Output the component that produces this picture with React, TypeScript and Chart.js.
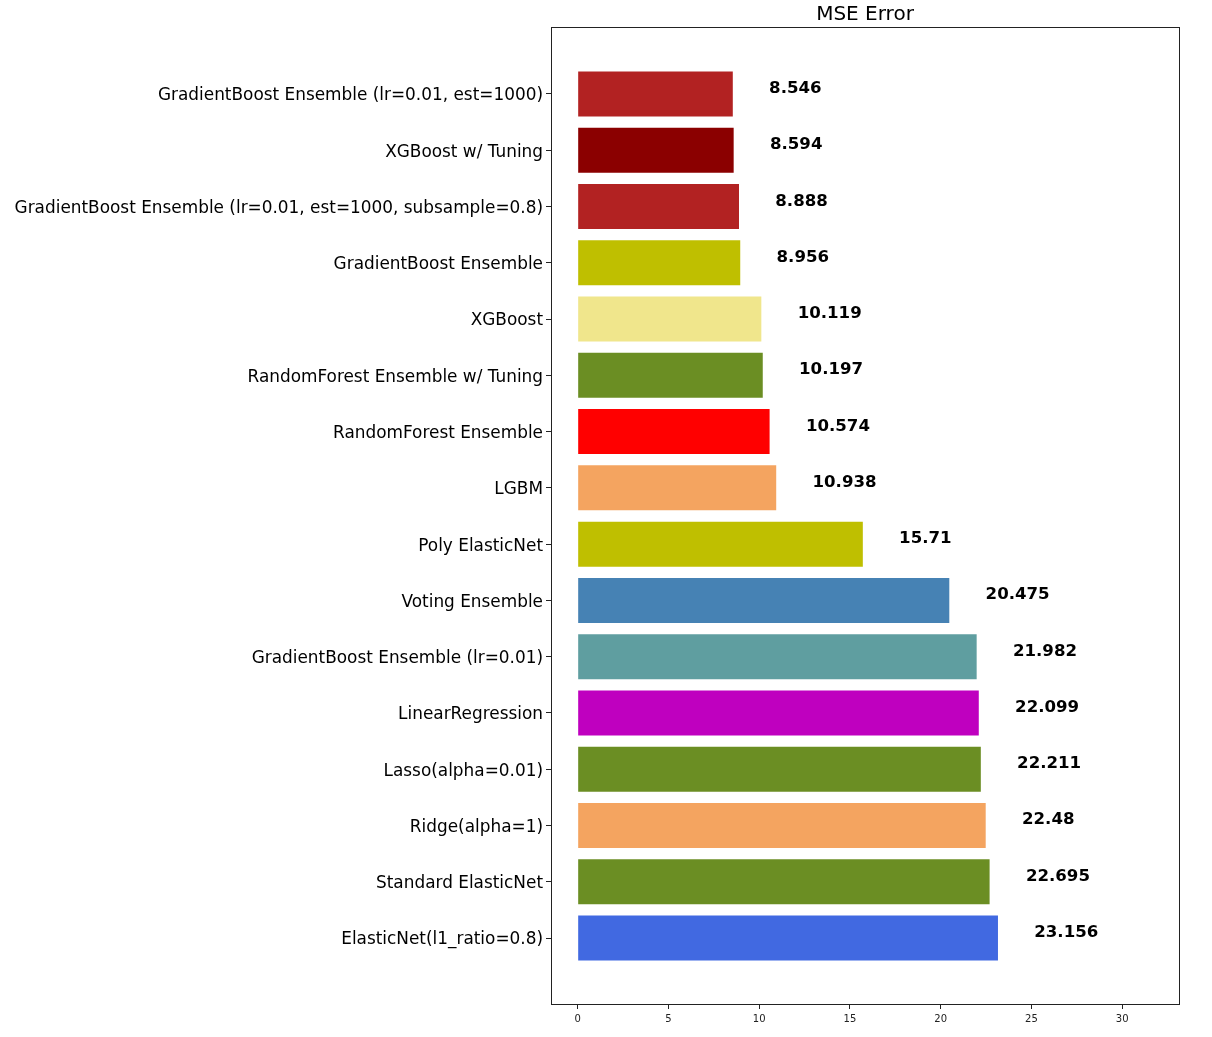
import React, { useEffect, useRef } from "react";
import { Chart, registerables } from "chart.js";

Chart.register(...registerables);

const categories = [
  "GradientBoost Ensemble (lr=0.01, est=1000)",
  "XGBoost w/ Tuning",
  "GradientBoost Ensemble (lr=0.01, est=1000, subsample=0.8)",
  "GradientBoost Ensemble",
  "XGBoost",
  "RandomForest Ensemble w/ Tuning",
  "RandomForest Ensemble",
  "LGBM",
  "Poly ElasticNet",
  "Voting Ensemble",
  "GradientBoost Ensemble (lr=0.01)",
  "LinearRegression",
  "Lasso(alpha=0.01)",
  "Ridge(alpha=1)",
  "Standard ElasticNet",
  "ElasticNet(l1_ratio=0.8)",
];

const mseValues = [
  8.546, 8.594, 8.888, 8.956, 10.119, 10.197, 10.574, 10.938, 15.71, 20.475,
  21.982, 22.099, 22.211, 22.48, 22.695, 23.156,
];

const barColors = [
  "#b22222", "#8b0000", "#b22222", "#bfbf00", "#f0e68c", "#6b8e23", "#ff0000",
  "#f4a460", "#bfbf00", "#4682b4", "#5f9ea0", "#bf00bf", "#6b8e23", "#f4a460",
  "#6b8e23", "#4169e1",
];

const xTicks = [0, 5, 10, 15, 20, 25, 30];
const chartTitle = "MSE Error";
const labelOffset = 2;

const FONT = "'DejaVu Sans', sans-serif";

export default function App() {
  const ref = useRef<HTMLCanvasElement | null>(null);

  useEffect(() => {
    document.body.style.margin = "0";
    const canvas = ref.current;
    if (!canvas) return;

    const framePlugin = {
      id: "frameAndLabels",
      afterDatasetsDraw(chart: any) {
        const { ctx, chartArea, scales } = chart;
        const x = scales.x;
        const y = scales.y;
        ctx.save();
        ctx.font = `bold 16.6px ${FONT}`;
        ctx.fillStyle = "#000";
        ctx.textAlign = "left";
        ctx.textBaseline = "alphabetic";
        mseValues.forEach((v, i) => {
          ctx.fillText(String(v), x.getPixelForValue(v + labelOffset), y.getPixelForValue(i) - 1);
        });
        ctx.strokeStyle = "#222";
        ctx.lineWidth = 1;
        ctx.strokeRect(
          Math.round(chartArea.left) + 0.5,
          Math.round(chartArea.top) + 0.5,
          Math.round(chartArea.right - chartArea.left),
          Math.round(chartArea.bottom - chartArea.top) - 1
        );
        ctx.font = `20px ${FONT}`;
        ctx.textAlign = "center";
        ctx.fillText(chartTitle, (chartArea.left + chartArea.right) / 2, chartArea.top - 7);
        ctx.restore();
      },
    };

    const chart = new Chart(canvas, {
      type: "bar",
      data: {
        datasets: [
          {
            data: mseValues.map((v, i) => ({ x: v, y: i })),
            backgroundColor: barColors,
            borderWidth: 0,
            barPercentage: 0.8,
            categoryPercentage: 1.0,
          },
        ],
      },
      options: {
        indexAxis: "y",
        animation: false,
        responsive: false,
        maintainAspectRatio: false,
        layout: { padding: { top: 27, right: 33, left: 0, bottom: 0 } },
        plugins: {
          legend: { display: false },
          tooltip: { enabled: false },
          title: { display: false },
        },
        scales: {
          x: {
            type: "linear",
            min: -1.47,
            max: 33.13,
            afterBuildTicks(scale: any) {
              scale.ticks = xTicks.map((v) => ({ value: v }));
            },
            afterFit(scale: any) {
              scale.height = 32;
            },
            grid: {
              drawOnChartArea: false,
              drawTicks: true,
              tickLength: 4,
              color: "#222",
            },
            border: { display: false },
            ticks: {
              font: { family: FONT, size: 10 },
              color: "#222",
              padding: 4,
              maxRotation: 0,
              autoSkip: false,
            },
          },
          y: {
            type: "linear",
            reverse: true,
            offset: false,
            min: -1.19,
            max: 16.19,
            afterBuildTicks(scale: any) {
              scale.ticks = categories.map((_, i) => ({ value: i }));
            },
            afterFit(scale: any) {
              scale.width = 551;
            },
            grid: {
              offset: false,
              drawOnChartArea: false,
              drawTicks: true,
              tickLength: 5,
              color: "#222",
            },
            border: { display: false },
            ticks: {
              font: { family: FONT, size: 16.9 },
              color: "#000",
              padding: 3,
              labelOffset: 2,
              autoSkip: false,
              callback: (value: any) => categories[Number(value)] ?? "",
            },
          },
        },
      },
      plugins: [framePlugin],
    } as any);

    return () => chart.destroy();
  }, []);

  return (
    <div style={{ width: 1212, height: 1037 }}>
      <canvas ref={ref} width={1212} height={1037} style={{ display: "block" }} />
    </div>
  );
}
